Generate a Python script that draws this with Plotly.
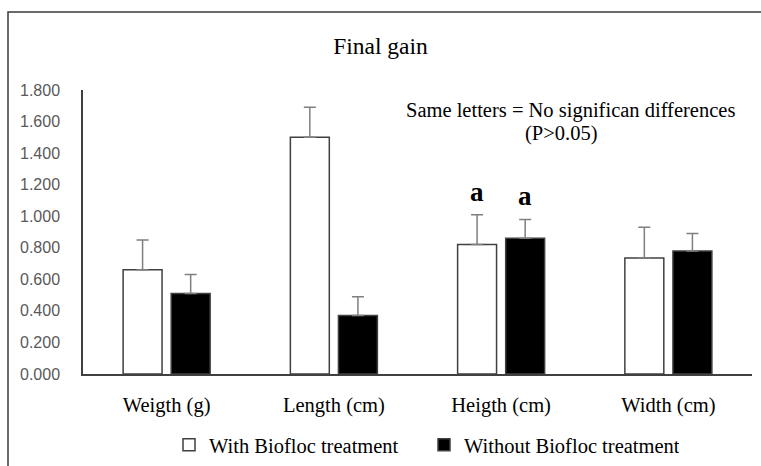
import plotly.graph_objects as go

# Measured traits and mean final gain per treatment
categories = ["Weigth (g)", "Length (cm)", "Heigth (cm)", "Width (cm)"]
with_biofloc = [0.66, 1.50, 0.82, 0.735]
with_biofloc_err = [0.19, 0.19, 0.19, 0.195]
without_biofloc = [0.51, 0.37, 0.86, 0.78]
without_biofloc_err = [0.12, 0.12, 0.12, 0.11]
y_ticks = [0.0, 0.2, 0.4, 0.6, 0.8, 1.0, 1.2, 1.4, 1.6, 1.8]

W, H = 761, 466
ML, MR, MT, MB = 83, 9, 90, 92
PW, PH = W - ML - MR, H - MT - MB

serif = "Liberation Serif"
sans = "Liberation Sans"

def px_x(x):
    return (x - ML) / PW

def px_y(y):
    return (H - MB - y) / PH

fig = go.Figure()
fig.add_trace(go.Bar(
    name="With Biofloc treatment", x=categories, y=with_biofloc,
    marker=dict(color="white", line=dict(color="#404040", width=1.5)),
    error_y=dict(type="data", array=with_biofloc_err, symmetric=False,
                 arrayminus=[0] * len(categories),
                 color="#7f7f7f", thickness=1.5, width=6),
))
fig.add_trace(go.Bar(
    name="Without Biofloc treatment", x=categories, y=without_biofloc,
    marker=dict(color="black", line=dict(color="#404040", width=1.5)),
    error_y=dict(type="data", array=without_biofloc_err, symmetric=False,
                 arrayminus=[0] * len(categories),
                 color="#7f7f7f", thickness=1.5, width=6),
))

# significance letters over the Heigth pair
hi = categories.index("Heigth (cm)")
for val, err, shift in [(with_biofloc[hi], with_biofloc_err[hi], -24),
                        (without_biofloc[hi], without_biofloc_err[hi], 24)]:
    fig.add_annotation(x=categories[hi], y=val + err, xshift=shift, yshift=6,
                       xanchor="center", yanchor="bottom", text="<b>a</b>",
                       showarrow=False,
                       font=dict(family=serif, size=27, color="black"))

fig.add_annotation(xref="paper", yref="paper", x=px_x(570), y=px_y(110),
                   xanchor="center", yanchor="middle",
                   text="Same letters = No significan differences",
                   showarrow=False, font=dict(family=serif, size=20.5, color="black"))
fig.add_annotation(xref="paper", yref="paper", x=px_x(561), y=px_y(133),
                   xanchor="center", yanchor="middle",
                   text="(P>0.05)", showarrow=False,
                   font=dict(family=serif, size=20.5, color="black"))

# outer frame (open on the right and bottom)
fig.add_shape(type="rect", xref="paper", yref="paper",
              x0=px_x(8), x1=px_x(900), y0=px_y(600), y1=px_y(12),
              line=dict(color="#3a3a3a", width=1.5), fillcolor="rgba(0,0,0,0)")

fig.update_layout(
    width=W, height=H,
    margin=dict(l=ML, r=MR, t=MT, b=MB, autoexpand=False),
    paper_bgcolor="white", plot_bgcolor="white",
    barmode="group", bargap=0.425, bargroupgap=0.19,
    title=dict(text="Final gain", x=0.5, xanchor="center", y=1 - 46 / H,
               yanchor="middle", font=dict(family=serif, size=23.5, color="black")),
    xaxis=dict(showline=True, linecolor="#404040", linewidth=1.5, automargin=False,
               ticks="", showgrid=False, ticklabelstandoff=12,
               tickfont=dict(family=serif, size=20.5, color="black")),
    yaxis=dict(range=[0, 1.8], tickvals=y_ticks, tickformat=".3f", automargin=False,
               showline=True, linecolor="#404040", linewidth=1.5,
               ticks="", showgrid=False, zeroline=False, ticklabelstandoff=18,
               tickfont=dict(family=sans, size=16, color="#595959")),
    legend=dict(orientation="h", xref="container", yref="container",
                x=169 / W, y=1 - 445 / H, xanchor="left", yanchor="middle",
                font=dict(family=serif, size=20.5, color="black"),
                itemwidth=30, entrywidth=210, entrywidthmode="pixels",
                bgcolor="rgba(0,0,0,0)"),
    showlegend=True,
)

fig.write_html("out.html")
